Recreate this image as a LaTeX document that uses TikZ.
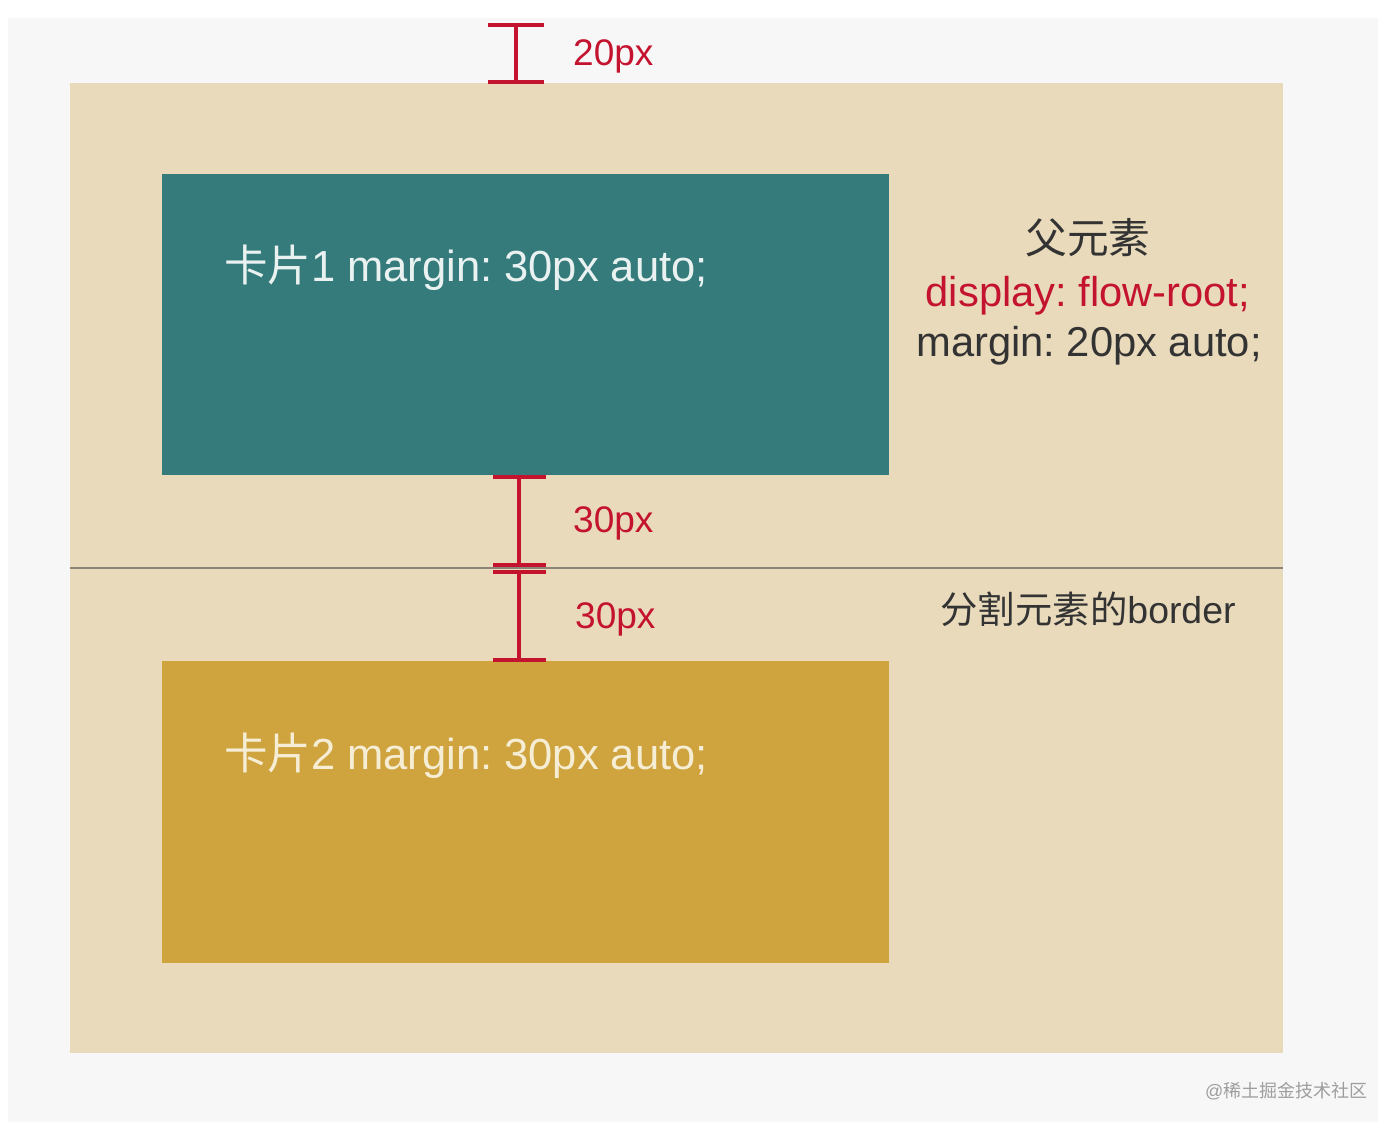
\documentclass[tikz,border=0pt]{standalone}
\usepackage{fontspec}
\setmainfont{Liberation Sans}
\newfontfamily\cjk{Noto Sans CJK SC}
\frenchspacing
\definecolor{pagebg}{HTML}{F7F7F7}
\definecolor{beige}{HTML}{E8DABB}
\definecolor{teal1}{HTML}{357B7B}
\definecolor{gold1}{HTML}{CFA43F}
\definecolor{dimred}{HTML}{C4132E}
\definecolor{txtgray}{HTML}{333333}
\definecolor{sepgray}{HTML}{8C8679}
\definecolor{cardtxt1}{HTML}{EAF2F1}
\definecolor{cardtxt2}{HTML}{F6EDD5}
\tikzset{
  dimline/.style={draw=dimred, line width=3.2pt},
  cardtxt/.style={font=\fontsize{43.5}{50}\selectfont, inner sep=0pt, anchor=base west},
  sidetxt/.style={font=\fontsize{41.7}{48}\selectfont, inner sep=0pt, anchor=base},
  dimtxt/.style={font=\fontsize{37}{44}\selectfont, text=dimred, inner sep=0pt, anchor=base west},
}
\begin{document}
\begin{tikzpicture}[x=1pt,y=-1pt]
\useasboundingbox (0,0) rectangle (1395,1130);
\fill[white] (0,0) rectangle (1395,1130);
\fill[pagebg] (8,18) rectangle (1378,1122);
% parent
\fill[beige] (70,83) rectangle (1283,1053);
\draw[sepgray, line width=1.8pt] (70,568) -- (1283,568);
% cards
\fill[teal1] (162,174) rectangle (889,475);
\fill[gold1] (162,661) rectangle (889,963);
\node[cardtxt, text=cardtxt1] (c1) at (224,281) {{\cjk 卡片}1 margin: 30px auto;};
\node[cardtxt, text=cardtxt2] (c2) at (224,769) {{\cjk 卡片}2 margin: 30px auto;};
% right texts
\node[sidetxt, text=txtgray] (p1) at (1088,253) {\cjk 父元素};
\node[sidetxt, text=dimred] (p2) at (1088,306) {display: flow-root;};
\node[sidetxt, text=txtgray] (p3) at (1089,356) {margin: 20px auto;};
\node[sidetxt, text=txtgray, font=\fontsize{37.4}{44}\selectfont] (p4) at (1088,623) {{\cjk 分割元素的}border};
% top dimension
\coordinate (t1) at (516,25);
\coordinate (t2) at (516,82);
\draw[dimline] (t1) -- (t2);
\draw[dimline] ([xshift=-28]t1) -- ([xshift=28]t1);
\draw[dimline] ([xshift=-28]t2) -- ([xshift=28]t2);
\node[dimtxt] (l20) at (573,65) {20px};
% middle dimensions
\coordinate (m1) at (519,477);
\coordinate (m2) at (519,565);
\coordinate (m3) at (519,572);
\coordinate (m4) at (519,660);
\draw[dimline] (m1) -- (m2);
\draw[dimline] (m3) -- (m4);
\foreach \c in {m1,m2,m3,m4}{
  \draw[dimline] ([xshift=-26]\c) -- ([xshift=27]\c);
}
\node[dimtxt] (l30a) at (573,532) {30px};
\node[dimtxt] (l30b) at (575,628) {30px};
% watermark
\node[font=\fontsize{18}{22}\selectfont, text=black!38, anchor=base west, inner sep=0pt] (wm) at (1205,1097) {@{\cjk 稀土掘金技术社区}};
\end{tikzpicture}
\end{document}
